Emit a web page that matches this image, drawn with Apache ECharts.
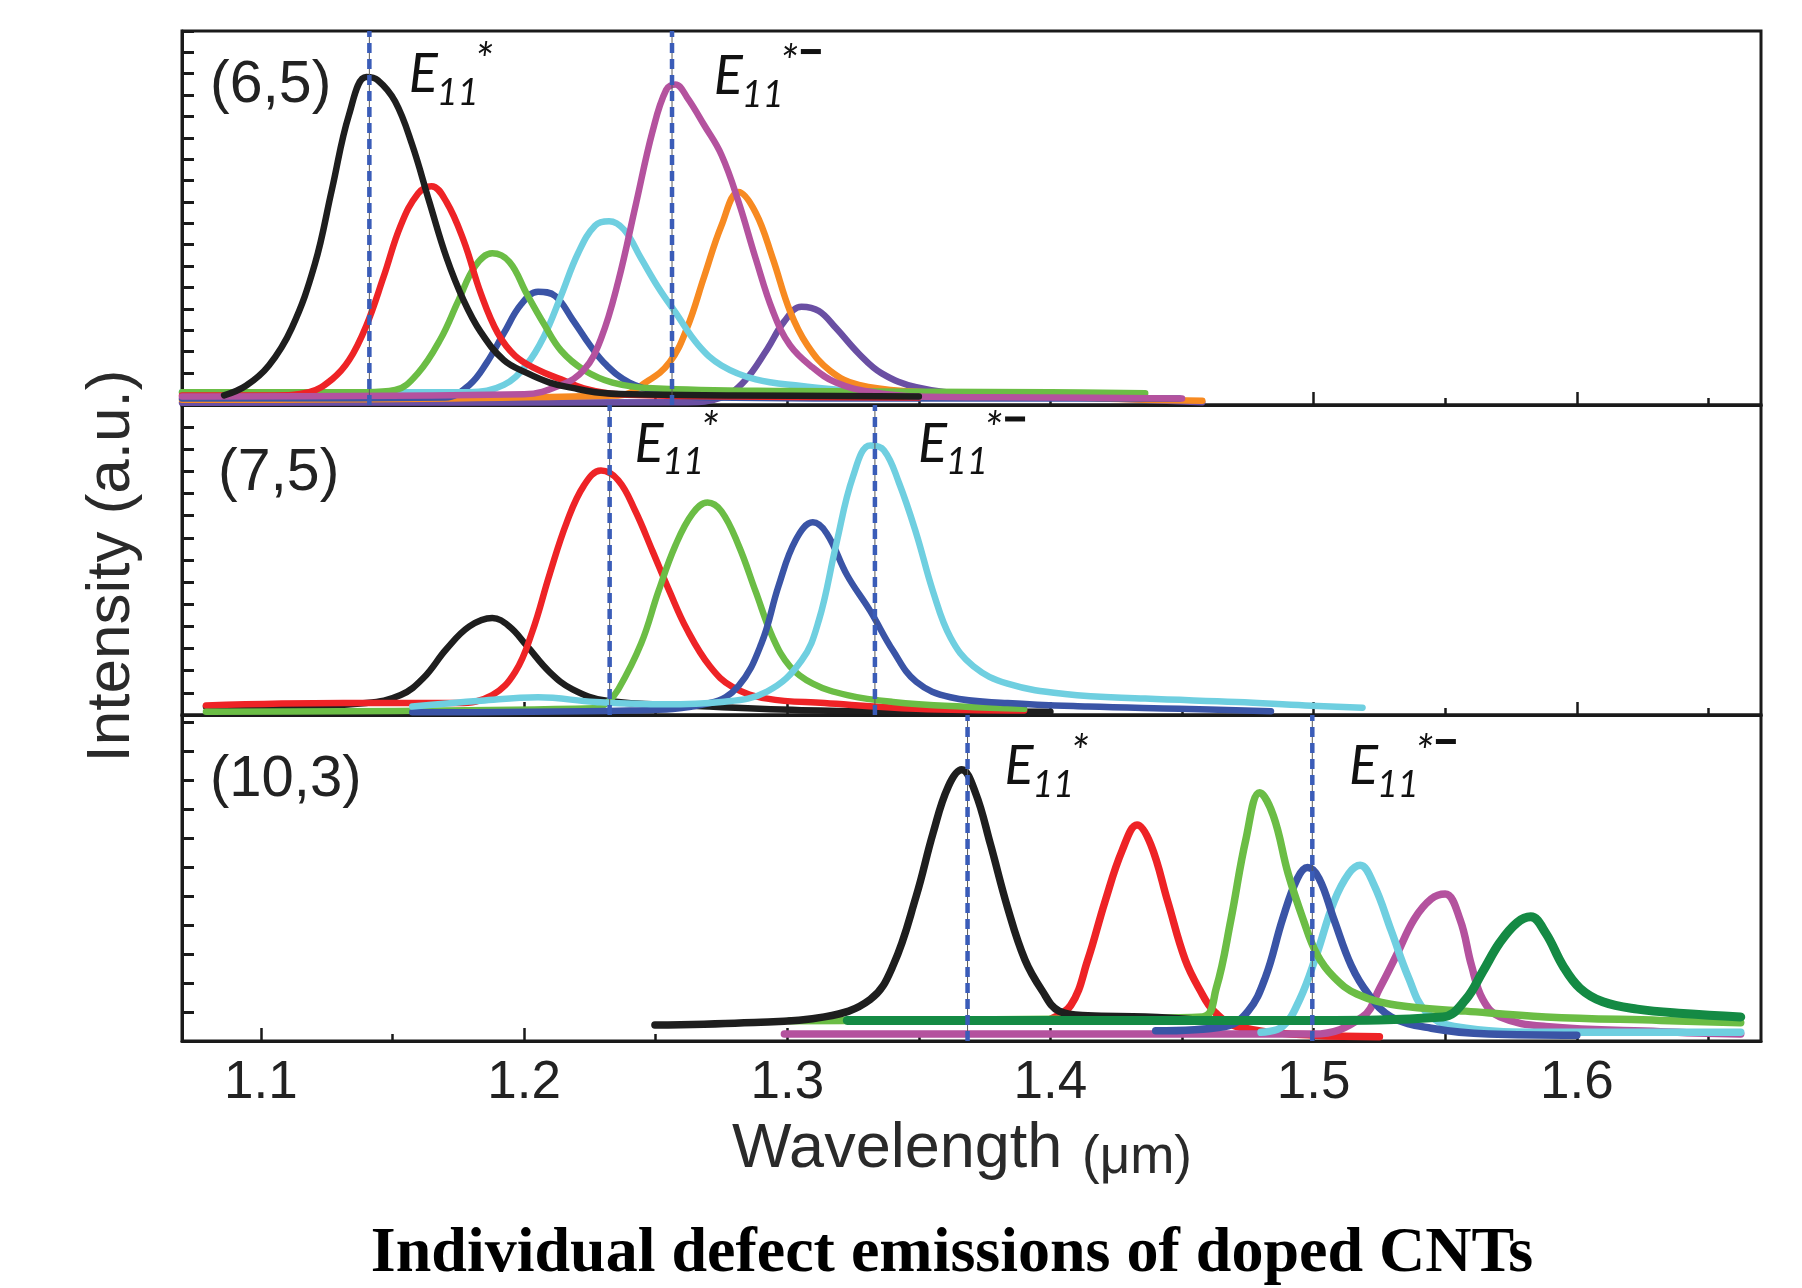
<!DOCTYPE html>
<html>
<head>
<meta charset="utf-8">
<script src="https://cdn.jsdelivr.net/npm/echarts@6/dist/echarts.min.js"></script>
<style>
  html, body { margin: 0; padding: 0; background: #ffffff; }
  #chart { width: 1802px; height: 1288px; }
</style>
</head>
<body>
<div id="chart"></div>
<script>
// ---- wavelength axis (µm) ----
const xMin = 1.07;
const xMax = 1.67;
const xMajorTicks = [1.1, 1.2, 1.3, 1.4, 1.5, 1.6];
const xMinorTicks = [1.15, 1.25, 1.35, 1.45, 1.55, 1.65];

// ---- intensity ranges (a.u.) and left-edge tick marks per panel ----
const yMax65 = 17.5;
const yMax75 = 14;
const yMax103 = 11.24;
const yTicks65 = [0.5, 1.5, 2.5, 3.5, 4.5, 5.5, 6.5, 7.5, 8.5, 9.5, 10.5, 11.5, 12.5, 13.5, 14.5, 15.5, 16.5, 17.5];
const yTicks75 = [0, 1, 2, 3, 4, 5, 6, 7, 8, 9, 10, 11, 12, 13, 14];
const yTicks103 = [0, 1, 2, 3, 4, 5, 6, 7, 8, 9, 10, 11];

// ---- panel names (chirality) ----
const panelNames = ['(6,5)', '(7,5)', '(10,3)'];

// ---- E11* / E11*- reference wavelengths per panel ----
const defectLines65 = [1.1412, 1.2562];
const defectLines75 = [1.2325, 1.3333];
const defectLines103 = [1.3685, 1.4995];

// ---- E11 label anchors [wavelength, intensity] (left edge / baseline of "E") ----
const labelAnchors65 = [[1.1562, 14.65], [1.2721, 14.55]];
const labelAnchors75 = [[1.2419, 11.45], [1.3497, 11.45]];
const labelAnchors103 = [[1.3825, 8.86], [1.5134, 8.86]];

// ---- trace colours ----
const cBlack = '#1e1e1e';
const cRed = '#ee2326';
const cGreen = '#6bbd45';
const cBlue = '#3a54a6';
const cCyan = '#6fcfe0';
const cMagenta = '#b4529e';
const cOrange = '#f78a21';
const cPurple = '#6a4fa3';
const cDarkGreen = '#148a44';
const cDash = '#3a5cb8';

// ---- (6,5) spectra: [wavelength µm, intensity a.u.] ----
const s65Purple = [[1.07,0.1],[1.2619,0.13],[1.275,0.35],[1.2836,1.1],[1.2923,2.6],[1.2988,3.9],[1.3054,4.6],[1.312,4.4],[1.3185,3.6],[1.3272,2.4],[1.3359,1.48],[1.349,0.83],[1.3707,0.5],[1.4142,0.35],[1.4577,0.13]];
const s65Orange = [[1.07,0.25],[1.2358,0.45],[1.2467,1.1],[1.2553,2.0],[1.2619,3.6],[1.2684,6.0],[1.275,8.4],[1.2815,9.97],[1.288,9.0],[1.2945,6.85],[1.301,4.4],[1.3076,2.8],[1.3163,1.6],[1.3272,0.94],[1.349,0.62],[1.375,0.5],[1.4185,0.3],[1.4577,0.2]];
const s65Blue = [[1.07,0.3],[1.17,0.35],[1.1792,0.94],[1.1857,1.96],[1.1923,3.36],[1.1988,4.7],[1.2053,5.3],[1.2118,5.1],[1.2184,4.0],[1.225,2.8],[1.2314,1.85],[1.24,1.05],[1.251,0.62],[1.27,0.35],[1.35,0.3],[1.449,0.3]];
const s65Cyan = [[1.07,0.6],[1.179,0.6],[1.1923,0.94],[1.201,1.9],[1.2075,3.2],[1.214,5.1],[1.2205,7.1],[1.227,8.4],[1.2323,8.6],[1.238,8.2],[1.2445,6.85],[1.251,5.5],[1.2575,4.33],[1.2662,2.8],[1.275,1.85],[1.288,1.2],[1.3054,0.89],[1.3228,0.67],[1.3359,0.5],[1.36,0.4]];
const s65Green = [[1.07,0.6],[1.14,0.6],[1.151,0.7],[1.1596,1.48],[1.1683,3.1],[1.1749,4.85],[1.1814,6.5],[1.1879,7.1],[1.1944,6.7],[1.201,5.2],[1.2075,3.8],[1.214,2.55],[1.2227,1.64],[1.2336,1.05],[1.2488,0.78],[1.30,0.65],[1.40,0.6],[1.436,0.55]];
const s65Red = [[1.07,0.45],[1.105,0.45],[1.1183,0.6],[1.127,1.2],[1.1335,2.1],[1.140,3.7],[1.1466,6.0],[1.1531,8.4],[1.1597,9.9],[1.1648,10.24],[1.1705,9.5],[1.177,7.7],[1.1836,5.2],[1.19,3.36],[1.1966,2.3],[1.2053,1.64],[1.214,1.2],[1.2227,0.78],[1.2358,0.5],[1.28,0.4],[1.35,0.35]];
const s65Magenta = [[1.07,0.4],[1.2,0.5],[1.214,0.94],[1.2227,1.64],[1.2292,3.1],[1.2358,5.8],[1.2423,9.3],[1.2488,12.8],[1.254,14.75],[1.2575,15.0],[1.2619,14.4],[1.2684,13.1],[1.275,11.7],[1.2815,9.5],[1.288,6.85],[1.2945,4.4],[1.301,2.8],[1.3097,1.75],[1.3185,1.05],[1.3315,0.62],[1.349,0.4],[1.40,0.35],[1.45,0.3]];
const s65Black = [[1.086,0.45],[1.0943,0.9],[1.103,1.85],[1.1117,3.6],[1.1205,6.6],[1.127,10.1],[1.1335,13.6],[1.140,15.35],[1.1444,15.2],[1.151,14.2],[1.1574,12.2],[1.164,9.5],[1.1705,6.9],[1.177,4.9],[1.1836,3.4],[1.1923,2.1],[1.201,1.5],[1.2097,1.05],[1.2184,0.8],[1.227,0.6],[1.24,0.5],[1.28,0.45],[1.35,0.4]];

// ---- (7,5) spectra ----
const s75Black = [[1.0791,0.38],[1.1096,0.38],[1.14,0.54],[1.1531,0.9],[1.1618,1.68],[1.1705,2.98],[1.1792,4.0],[1.1879,4.38],[1.1944,4.0],[1.201,3.13],[1.2097,1.94],[1.2184,1.16],[1.2314,0.64],[1.2619,0.43],[1.3054,0.22],[1.349,0.17],[1.40,0.15]];
const s75Red = [[1.0791,0.43],[1.1313,0.54],[1.1749,0.54],[1.1879,0.9],[1.1966,1.94],[1.2031,3.76],[1.2097,6.36],[1.2162,8.7],[1.2227,10.36],[1.2292,11.04],[1.2358,10.6],[1.2423,9.2],[1.2488,7.4],[1.2553,5.57],[1.2619,3.86],[1.2706,2.2],[1.2793,1.26],[1.2924,0.74],[1.3141,0.54],[1.349,0.28],[1.39,0.2]];
const s75Green = [[1.0791,0.15],[1.227,0.3],[1.2314,0.54],[1.2358,1.16],[1.2445,3.24],[1.251,5.57],[1.2575,7.66],[1.264,9.1],[1.2697,9.6],[1.275,9.2],[1.2815,7.66],[1.288,5.57],[1.2945,3.5],[1.301,2.2],[1.3097,1.42],[1.3228,0.9],[1.3402,0.59],[1.3663,0.38],[1.39,0.28]];
const s75Blue = [[1.1575,0.12],[1.24,0.2],[1.2706,0.54],[1.2815,1.32],[1.2902,3.24],[1.2967,5.84],[1.3032,7.9],[1.3097,8.7],[1.315,8.2],[1.3228,6.3],[1.3315,4.7],[1.3402,2.9],[1.349,1.5],[1.362,0.8],[1.3837,0.54],[1.4142,0.38],[1.449,0.28],[1.4838,0.17]];
const s75Cyan = [[1.1575,0.38],[1.1836,0.64],[1.2053,0.8],[1.227,0.59],[1.2532,0.48],[1.275,0.59],[1.2923,1.06],[1.3054,2.46],[1.312,4.28],[1.3185,7.66],[1.325,10.78],[1.3315,12.17],[1.3367,11.96],[1.3424,10.5],[1.349,8.2],[1.3554,5.57],[1.362,3.5],[1.3707,2.2],[1.3837,1.42],[1.4055,0.95],[1.436,0.74],[1.4708,0.59],[1.4969,0.43],[1.5186,0.33]];

// ---- (10,3) spectra ----
const s103Magenta = [[1.2989,0.24],[1.50,0.24],[1.5186,0.83],[1.5251,1.82],[1.5317,3.0],[1.5382,4.2],[1.5447,4.9],[1.55,5.07],[1.5556,4.2],[1.56,2.6],[1.5643,1.43],[1.5708,0.83],[1.5882,0.5],[1.6318,0.32],[1.6623,0.24]];
const s103Cyan = [[1.48,0.3],[1.4882,0.5],[1.4947,1.43],[1.5012,3.0],[1.5077,4.8],[1.5134,5.78],[1.5177,6.06],[1.5229,5.39],[1.5295,3.8],[1.536,2.2],[1.5425,1.03],[1.5534,0.5],[1.5882,0.3],[1.6318,0.3],[1.6623,0.3]];
const s103Blue = [[1.44,0.35],[1.4664,0.5],[1.4751,1.03],[1.4817,2.2],[1.4882,4.2],[1.4938,5.6],[1.4977,5.98],[1.5021,5.6],[1.5077,4.2],[1.5143,2.6],[1.5208,1.62],[1.5295,0.83],[1.5447,0.44],[1.5665,0.24],[1.60,0.2]];
const s103Red = [[1.3990,0.71],[1.4077,1.23],[1.4142,2.8],[1.4207,4.8],[1.4273,6.58],[1.4329,7.45],[1.4381,6.78],[1.4446,4.8],[1.4512,2.8],[1.4569,1.74],[1.4621,1.03],[1.4708,0.5],[1.50,0.2],[1.525,0.15]];
const s103LightGreen = [[1.301,0.7],[1.40,0.75],[1.4577,0.83],[1.463,1.82],[1.4686,4.2],[1.4743,6.97],[1.4795,8.56],[1.4847,7.77],[1.4903,5.78],[1.496,4.2],[1.5012,3.0],[1.5077,2.2],[1.5164,1.62],[1.5317,1.23],[1.5578,1.03],[1.5882,0.83],[1.6318,0.71],[1.6623,0.63]];
const s103Black = [[1.2497,0.55],[1.2836,0.63],[1.3141,0.83],[1.3315,1.43],[1.3402,2.6],[1.349,5.0],[1.3554,7.17],[1.3611,8.76],[1.3663,9.35],[1.3715,8.56],[1.3772,6.78],[1.3837,4.6],[1.3903,2.8],[1.3968,1.74],[1.4033,1.03],[1.4142,0.87],[1.436,0.83],[1.4577,0.71]];
const s103DarkGreen = [[1.3228,0.71],[1.50,0.71],[1.5491,0.83],[1.5578,1.43],[1.5643,2.4],[1.5708,3.4],[1.5773,4.08],[1.5825,4.28],[1.5882,3.72],[1.5947,2.6],[1.6012,1.82],[1.6099,1.35],[1.623,1.1],[1.6404,0.95],[1.6623,0.83]];

// ---------------------------------------------------------------
const FRAME = '#1a1a1a';
const gridRects = [
  { left: 182, top: 31, width: 1579, height: 374 },
  { left: 182, top: 405, width: 1579, height: 310 },
  { left: 182, top: 715, width: 1579, height: 326 }
];
const yMaxes = [yMax65, yMax75, yMax103];
const yTickSets = [yTicks65, yTicks75, yTicks103];

const grids = gridRects.map(r => Object.assign({
  show: true, borderColor: FRAME, borderWidth: 3, backgroundColor: 'transparent'
}, r));

const xAxes = [];
gridRects.forEach((r, g) => {
  // major ticks (labels only on the bottom panel)
  xAxes.push({
    gridIndex: g, type: 'value', min: xMin, max: xMax, position: 'bottom',
    axisLine: { show: true, onZero: false, lineStyle: { color: FRAME, width: 3 } },
    axisTick: { show: true, inside: true, length: 13, customValues: xMajorTicks,
                lineStyle: { color: FRAME, width: 2.5 } },
    axisLabel: { show: g === 2, customValues: xMajorTicks, margin: 16,
                 formatter: v => Number(v).toFixed(1),
                 fontSize: 53, color: '#222', fontFamily: 'Liberation Sans, Arial, sans-serif' },
    splitLine: { show: false }
  });
  // minor ticks
  xAxes.push({
    gridIndex: g, type: 'value', min: xMin, max: xMax, position: 'bottom',
    axisLine: { show: false },
    axisTick: { show: true, inside: true, length: 7, customValues: xMinorTicks,
                lineStyle: { color: FRAME, width: 2.5 } },
    axisLabel: { show: false },
    splitLine: { show: false }
  });
});

const yAxes = gridRects.map((r, g) => ({
  gridIndex: g, type: 'value', min: 0, max: yMaxes[g],
  axisLine: { show: true, lineStyle: { color: FRAME, width: 3 } },
  axisTick: { show: true, inside: true, length: 12, customValues: yTickSets[g],
              lineStyle: { color: FRAME, width: 3 } },
  axisLabel: { show: false },
  splitLine: { show: false }
}));

function trace(data, color, g, width) {
  return {
    type: 'line', data: data, xAxisIndex: g * 2, yAxisIndex: g,
    showSymbol: false, symbol: 'none', smooth: 0.4,
    lineStyle: { color: color, width: width || 6.5, cap: 'round', join: 'round' },
    itemStyle: { color: color },
    silent: true, animation: false, z: 2
  };
}

// vertical reference line at a given wavelength spanning the panel
function refLine(x, g, style) {
  return {
    type: 'line', data: [[x, 0], [x, yMaxes[g]]], xAxisIndex: g * 2, yAxisIndex: g,
    showSymbol: false, symbol: 'none', silent: true, animation: false, z: 5,
    lineStyle: style
  };
}

const series = [
  // (6,5)
  trace(s65Purple, cPurple, 0),
  trace(s65Orange, cOrange, 0),
  trace(s65Blue, cBlue, 0),
  trace(s65Cyan, cCyan, 0),
  trace(s65Green, cGreen, 0),
  trace(s65Red, cRed, 0),
  trace(s65Magenta, cMagenta, 0),
  trace(s65Black, cBlack, 0),
  // (7,5)
  trace(s75Black, cBlack, 1),
  trace(s75Red, cRed, 1),
  trace(s75Green, cGreen, 1),
  trace(s75Blue, cBlue, 1),
  trace(s75Cyan, cCyan, 1),
  // (10,3)
  trace(s103Red, cRed, 2, 7.5),
  trace(s103Magenta, cMagenta, 2, 7.5),
  trace(s103Cyan, cCyan, 2, 7.5),
  trace(s103Blue, cBlue, 2, 7.5),
  trace(s103LightGreen, cGreen, 2, 7.5),
  trace(s103Black, cBlack, 2, 7.5),
  trace(s103DarkGreen, cDarkGreen, 2, 9)
];

[defectLines65, defectLines75, defectLines103].forEach((xs, g) => {
  xs.forEach(x => {
    series.push(refLine(x, g, { color: '#5a5a5a', width: 1, type: 'solid' }));
    series.push(refLine(x, g, { color: cDash, width: 4.5, type: [10, 6] }));
  });
});

const chart = echarts.init(document.getElementById('chart'), null, { renderer: 'canvas' });
chart.setOption({
  backgroundColor: '#ffffff',
  animation: false,
  grid: grids,
  xAxis: xAxes,
  yAxis: yAxes,
  series: series
});

// ---- text annotations ----
const SANS = 'Liberation Sans, Arial, sans-serif';
const ITAL = 'Lato, Open Sans, sans-serif';
const graphics = [];

function plainText(text, x, y, size, opts) {
  return {
    type: 'text', x: x, y: y, silent: true, z: 100,
    style: Object.assign({ text: text, fontSize: size, fontFamily: SANS, fill: '#222',
                           align: 'left', verticalAlign: 'middle' }, opts || {})
  };
}

// chirality labels
graphics.push(plainText(panelNames[0], 210, 86, 59));
graphics.push(plainText(panelNames[1], 218, 474, 59));
graphics.push(plainText(panelNames[2], 210, 780, 58));

// E11* / E11*- labels
function e11Label(anchor, g, withMinus) {
  const p = chart.convertToPixel({ gridIndex: g }, anchor);
  const ax = p[0], ay = p[1];
  const it = { fontStyle: 'italic', fontFamily: ITAL, fill: '#111' };
  graphics.push(plainText('E', ax, ay - 17, 54, it));
  graphics.push(plainText('11', ax + 28, ay + 1, 36, it));
  graphics.push(plainText('*', ax + 66, ay - 31, 46, it));
  if (withMinus) {
    graphics.push({ type: 'rect', silent: true, z: 100,
      shape: { x: ax + 87, y: ay - 45, width: 20, height: 5 },
      style: { fill: '#111' } });
  }
}
[labelAnchors65, labelAnchors75, labelAnchors103].forEach((pair, g) => {
  e11Label(pair[0], g, false);
  e11Label(pair[1], g, true);
});

// axis titles
graphics.push(plainText('Wavelength', 732, 1150, 63, { fill: '#2a2a2a' }));
graphics.push(plainText('(\u03bcm)', 1082, 1158, 53, { fill: '#2a2a2a' }));
graphics.push({
  type: 'text', x: 112, y: 566, rotation: Math.PI / 2, silent: true,
  style: { text: 'Intensity (a.u.)', fontSize: 62, fontFamily: SANS, fill: '#2a2a2a',
           align: 'center', verticalAlign: 'middle' }
});
// caption
graphics.push({
  type: 'text', x: 952, y: 1254, silent: true,
  style: { text: 'Individual defect emissions of doped CNTs', fontSize: 64,
           fontWeight: 'bold', fontFamily: 'Liberation Serif, Times New Roman, serif',
           fill: '#000', align: 'center', verticalAlign: 'middle' }
});

chart.setOption({ graphic: graphics });
</script>
</body>
</html>
